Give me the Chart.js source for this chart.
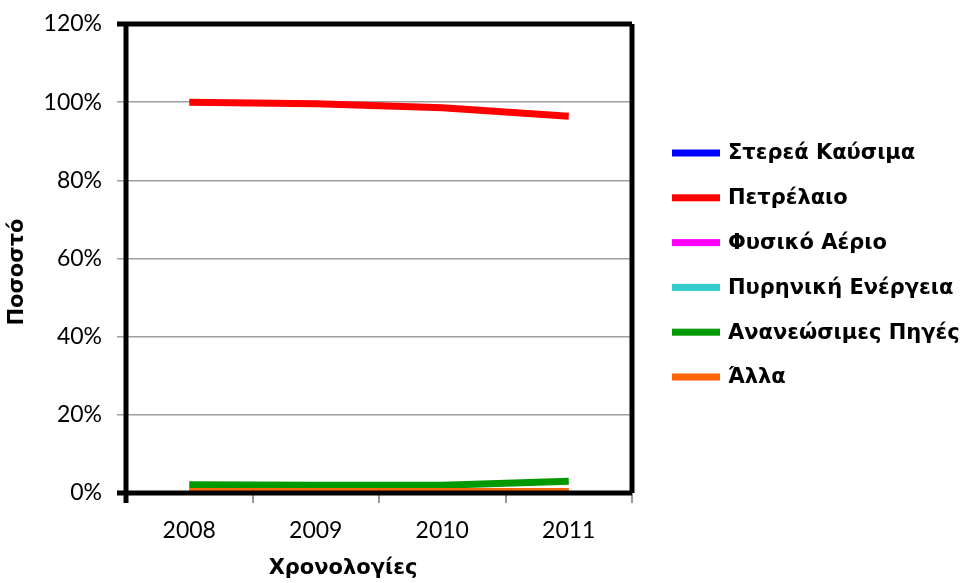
<!DOCTYPE html>
<html>
<head>
<meta charset="utf-8">
<script src="https://cdn.jsdelivr.net/npm/chart.js@4.4.1/dist/chart.umd.min.js"></script>
<style>
  html, body { margin: 0; padding: 0; background: #fff; }
  #wrap { width: 971px; height: 583px; }
</style>
</head>
<body>
<div id="wrap"><canvas id="myChart" width="971" height="583"></canvas></div>
<script>
const years = ['2008', '2009', '2010', '2011'];
const seriesNames = ['Στερεά Καύσιμα', 'Πετρέλαιο', 'Φυσικό Αέριο', 'Πυρηνική Ενέργεια', 'Ανανεώσιμες Πηγές', 'Άλλα'];
const solidFuels = [0, 0, 0, 0];
const oil = [100, 99.6, 98.6, 96.4];
const naturalGas = [0, 0, 0, 0];
const nuclear = [0, 0, 0, 0];
const renewables = [2.1, 2.0, 2.0, 3.0];
const other = [0.4, 0.4, 0.4, 0.4];
const yTicks = [0, 20, 40, 60, 80, 100, 120];

const colors = ['#0000ff', '#ff0000', '#ff00ff', '#33cccc', '#009900', '#ff6600'];
const values = [solidFuels, oil, naturalGas, nuclear, renewables, other];

const datasets = seriesNames.map((name, i) => ({
  label: name,
  data: values[i],
  borderColor: colors[i],
  backgroundColor: colors[i],
  borderWidth: 7,
  borderCapStyle: 'butt',
  pointRadius: 0,
  tension: 0,
  order: seriesNames.length - i
}));

// black frame drawn over the data, like the original
const framePlugin = {
  id: 'frame',
  afterDatasetsDraw(chart) {
    const { ctx, chartArea: a } = chart;
    ctx.save();
    ctx.strokeStyle = '#000';
    ctx.lineWidth = 5;
    ctx.beginPath();
    ctx.moveTo(a.left - 9, a.top); ctx.lineTo(a.right, a.top);
    ctx.moveTo(a.right, a.top); ctx.lineTo(a.right, a.bottom);
    ctx.moveTo(a.left - 9, a.bottom); ctx.lineTo(a.right, a.bottom);
    ctx.moveTo(a.left, a.top - 2); ctx.lineTo(a.left, a.bottom + 10);
    ctx.stroke();
    ctx.restore();
  }
};

const legendPlugin = {
  id: 'sideLegend',
  afterDraw(chart) {
    const { ctx, chartArea: a } = chart;
    const x0 = a.right + 40;
    let y = a.top + 129;
    ctx.save();
    ctx.font = 'bold 21px "DejaVu Sans", Verdana, sans-serif';
    ctx.textBaseline = 'middle';
    ctx.fillStyle = '#000';
    chart.data.datasets.forEach(ds => {
      ctx.fillStyle = ds.borderColor;
      ctx.fillRect(x0, y - 3.5, 48, 7);
      ctx.fillStyle = '#000';
      ctx.fillText(ds.label, x0 + 56, y + 1);
      y += 44.8;
    });
    ctx.restore();
  }
};

const titlesPlugin = {
  id: 'axisTitles',
  afterDraw(chart) {
    const { ctx, chartArea: a } = chart;
    ctx.save();
    ctx.font = 'bold 21px "DejaVu Sans", Verdana, sans-serif';
    ctx.fillStyle = '#000';
    ctx.textAlign = 'center';
    ctx.textBaseline = 'alphabetic';
    ctx.fillText('Χρονολογίες', a.left + 217, a.bottom + 81);
    ctx.translate(23, a.top + 248);
    ctx.rotate(-Math.PI / 2);
    ctx.fillText('Ποσοστό', 0, 0);
    ctx.restore();
  }
};

window.onload = () => {
  const ctx = document.getElementById('myChart');
  new Chart(ctx, {
    type: 'line',
    data: { labels: years, datasets },
    options: {
      responsive: false,
      animation: false,
      layout: { padding: { top: 24, right: 339, bottom: 0, left: 0 } },
      plugins: { legend: { display: false }, tooltip: { enabled: false } },
      scales: {
        x: {
          offset: true,
          grid: { offset: true, drawOnChartArea: false, drawTicks: true, tickLength: 10, color: '#999', lineWidth: 2 },
          border: { display: false },
          ticks: { font: { family: 'Lato', size: 23 }, color: '#000', padding: 14, maxRotation: 0 },
          afterFit(scale) { scale.height = 90; scale.paddingLeft = 0; scale.paddingRight = 0; }
        },
        y: {
          min: 0,
          max: 120,
          afterBuildTicks(scale) { scale.ticks = yTicks.map(v => ({ value: v })); },
          grid: { color: '#a0a0a0', lineWidth: 1.5, tickLength: 9 },
          border: { display: false },
          ticks: { font: { family: 'Lato', size: 23 }, color: '#000', padding: 15, callback: v => v + '%' },
          afterFit(scale) { scale.width = 126; scale.paddingTop = 0; scale.paddingBottom = 0; }
        }
      }
    },
    plugins: [framePlugin, legendPlugin, titlesPlugin]
  });
};
</script>
</body>
</html>
